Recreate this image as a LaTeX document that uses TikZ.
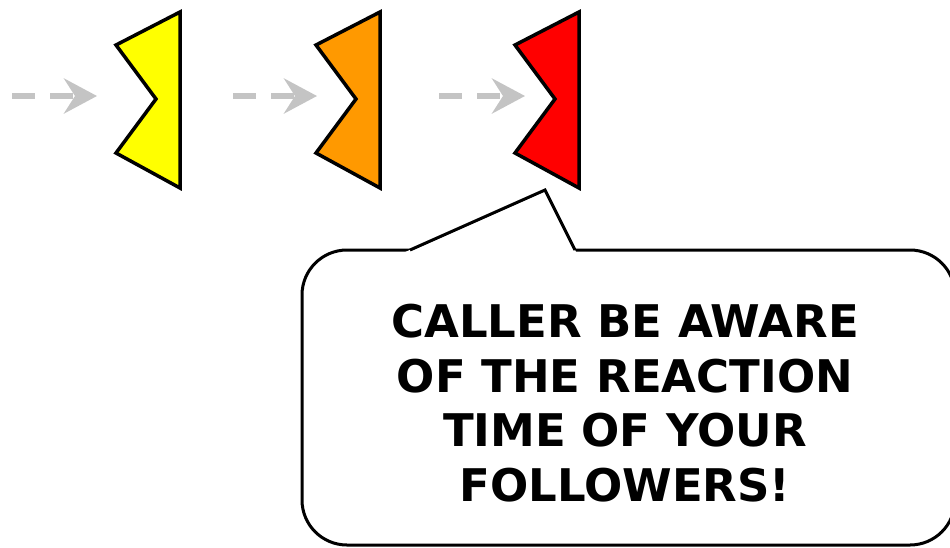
\documentclass[tikz,border=0pt]{standalone}
\usepackage{fontspec}
\setmainfont{DejaVu Sans}
\usetikzlibrary{arrows.meta}
\definecolor{flowgray}{RGB}{196,196,196}
\definecolor{gateyellow}{RGB}{255,255,0}
\definecolor{gateorange}{RGB}{255,153,0}
\definecolor{gatered}{RGB}{255,0,0}
\tikzset{
  flow/.style={draw=flowgray, line width=6pt, dash pattern=on 23pt off 15pt,
    -{Stealth[length=33pt,width=35pt,inset=11pt,fill=flowgray]}},
  gate/.style={draw=black, line width=3.5pt},
  bubble/.style={draw, line width=3pt, rounded corners=45pt, fill=white,
    minimum width=653pt, minimum height=295pt, inner sep=0pt, outer sep=0pt},
  tailline/.style={draw, line width=3pt},
  warntext/.style={font=\fontsize{45}{54.5}\selectfont\bfseries, align=center, inner sep=0pt}
}

\begin{document}
\begin{tikzpicture}[x=1pt,y=-1pt]
    \useasboundingbox (0,0) rectangle (950,547);
    % Gates
    \foreach \r/\c/\n in {180/gateyellow/1, 380/gateorange/2, 579/gatered/3}{
      \filldraw[gate, fill=\c] (\r,12) -- (\r-64,45) -- (\r-24,99) -- (\r-64,153) -- (\r,188) -- cycle;
    }
    % Arrows
    \foreach \a/\b/\n in {12/97/1, 233/317/2, 439/525/3}{
      \coordinate (s\n) at (\a,96);
      \coordinate (e\n) at (\b,96);
      \draw[flow] (s\n) -- (e\n);
    }
    % Speech bubble
    \coordinate (tip) at (545,190);
    \node[bubble] (bubble) at (628.5,397.5) {};
    \fill[white] ([xshift=-225.5pt,yshift=-3pt]bubble.north) -- (tip) -- ([xshift=-52pt,yshift=-3pt]bubble.north) -- cycle;
    \draw[tailline] ([xshift=-218.5pt]bubble.north) -- (tip) -- ([xshift=-53.5pt]bubble.north);
    \node[warntext] (warning) at (625,403) {CALLER BE AWARE\\OF THE REACTION\\TIME OF YOUR\\FOLLOWERS!};
\end{tikzpicture}
\end{document}
